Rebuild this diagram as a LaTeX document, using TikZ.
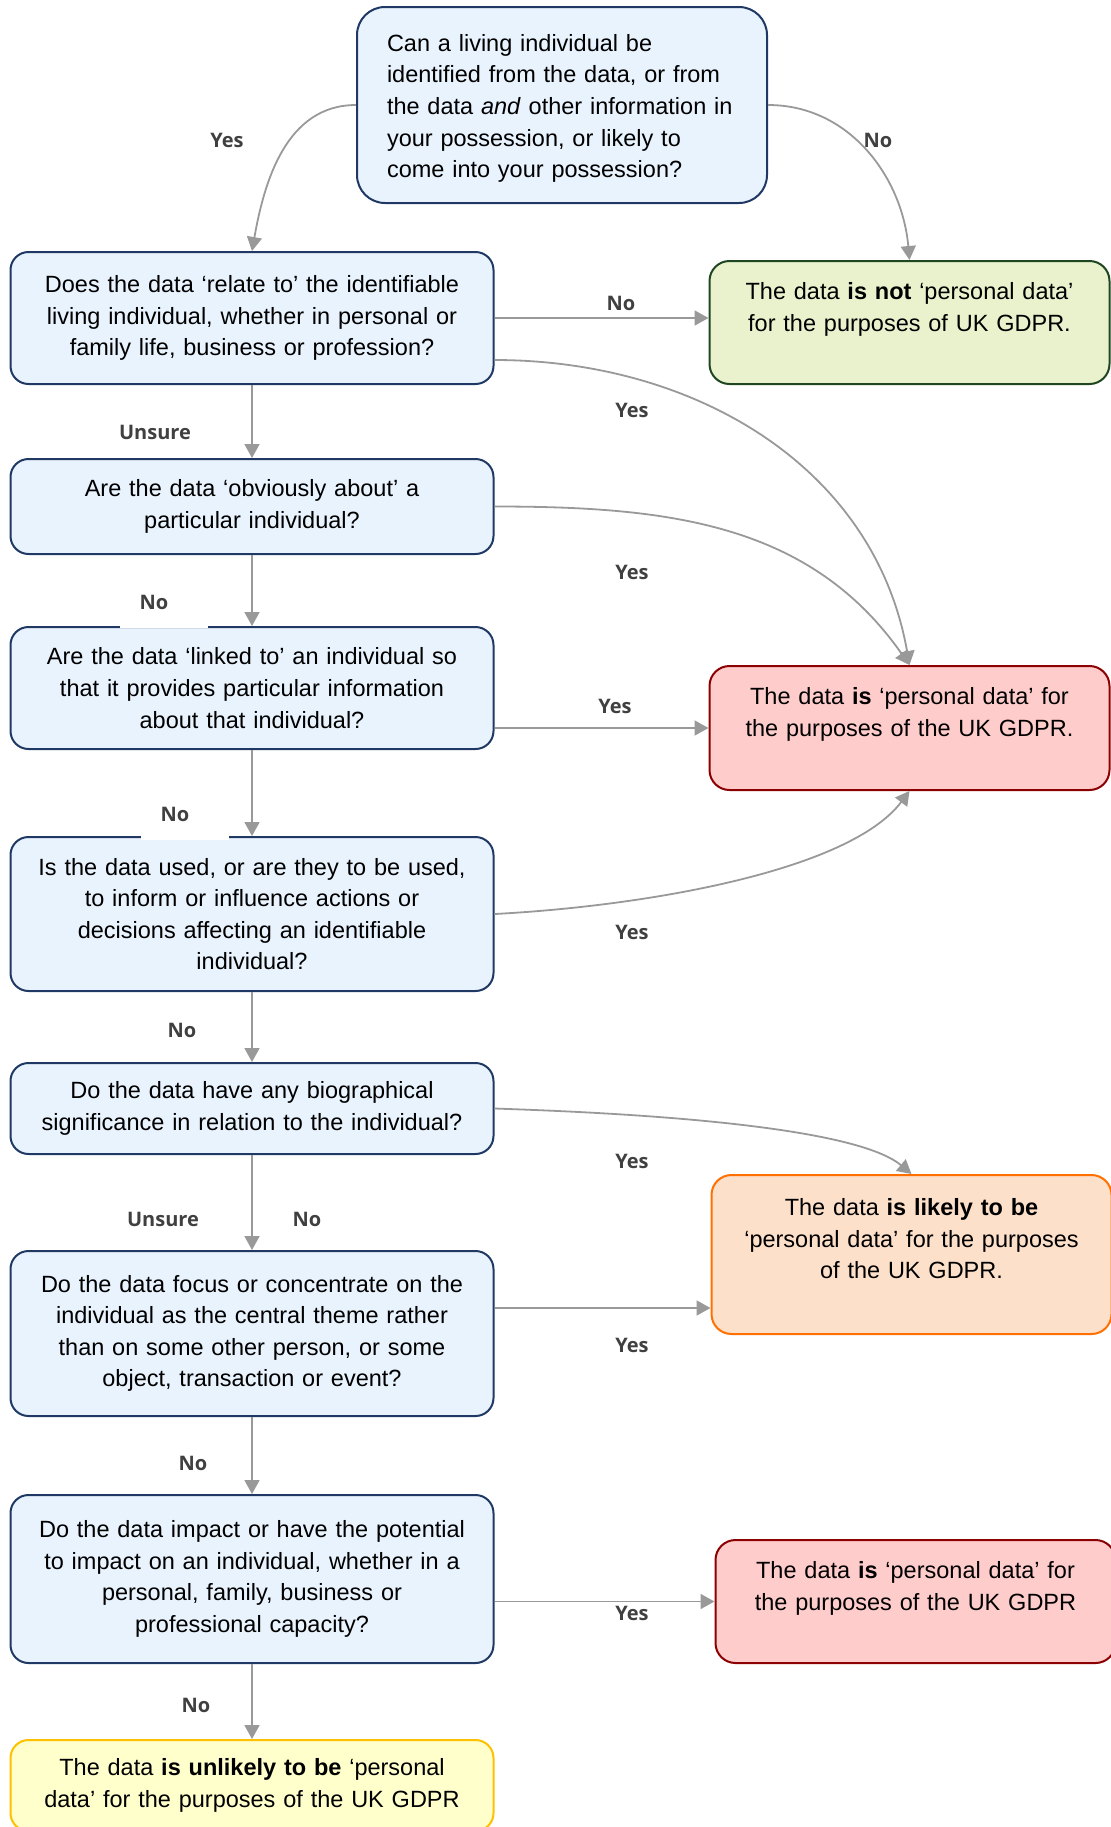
\documentclass[tikz,border=0pt]{standalone}
\usepackage{fontspec}
\setmainfont{Liberation Sans}
\newfontfamily\answerfont{Open Sans}
\usetikzlibrary{shapes,arrows.meta,positioning}
\definecolor{qfill}{HTML}{E9F3FD}
\definecolor{qborder}{HTML}{1F3864}
\definecolor{notfill}{HTML}{E9F2CC}
\definecolor{notborder}{HTML}{1E4620}
\definecolor{pdfill}{HTML}{FFCCCC}
\definecolor{pdborder}{HTML}{8B0000}
\definecolor{likelyfill}{HTML}{FDE0CA}
\definecolor{likelyborder}{HTML}{FF7000}
\definecolor{unlikelyfill}{HTML}{FFFFCC}
\definecolor{unlikelyborder}{HTML}{FFC000}
\definecolor{linegray}{HTML}{999999}
\definecolor{answergray}{HTML}{404040}
\newcommand{\boxfont}{\fontsize{11.75pt}{15.8pt}\selectfont}
\tikzstyle{topq} = [rectangle, draw=qborder, fill=qfill, line width=1pt,
    rounded corners=14pt, text width=175pt, align=left, inner xsep=15pt,
    inner ysep=0pt, minimum height=98pt, font=\boxfont]
\tikzstyle{question} = [rectangle, draw=qborder, fill=qfill, line width=1pt,
    rounded corners=9pt, text width=236pt, align=center, inner xsep=2.75pt,
    inner ysep=0pt, font=\boxfont]
\tikzstyle{outcome} = [rectangle, line width=1pt, rounded corners=10pt,
    text width=194pt, align=center, inner xsep=3pt, inner ysep=0pt, font=\boxfont]
\tikzstyle{answer} = [font=\answerfont\bfseries\fontsize{10pt}{12pt}\selectfont,
    text=answergray, inner sep=1pt]
\tikzstyle{patch} = [fill=white, minimum width=44pt, minimum height=26pt]
\tikzstyle{line} = [draw=linegray, line width=0.9pt, -{Triangle[length=7pt,width=7.5pt]}]

\begin{document}
\begin{tikzpicture}
    \useasboundingbox (0,0) rectangle (555pt,-913.5pt);
    % Place nodes
    \node [topq] (ident) at (281pt,-52.5pt) {\rule{0pt}{12pt}Can a living individual be\\ identified from the data, or from\\ the data \emph{and} other information in\\ your possession, or likely to\\ come into your possession?};
    \node [question, minimum height=66pt] (relate) at (126pt,-159pt) {Does the data ‘relate to’ the identifiable\\ living individual, whether in personal or\\ family life, business or profession?};
    \node [question, below=36.5pt of relate, minimum height=47.5pt] (obvious) {Are the data ‘obviously about’ a\\ particular individual?};
    \node [question, below=35.5pt of obvious, minimum height=61pt] (linked) {Are the data ‘linked to’ an individual so\\ that it provides particular information\\ about that individual?};
    \node [question, below=43pt of linked, minimum height=77pt] (used) {Is the data used, or are they to be used,\\ to inform or influence actions or\\ decisions affecting an identifiable\\ individual?};
    \node [question, below=35pt of used, minimum height=45.5pt] (bio) {Do the data have any biographical\\ significance in relation to the individual?};
    \node [question, below=47.5pt of bio, minimum height=82.5pt] (focus) {Do the data focus or concentrate on the\\ individual as the central theme rather\\ than on some other person, or some\\ object, transaction or event?};
    \node [question, below=38.5pt of focus, minimum height=84pt] (impact) {Do the data impact or have the potential\\ to impact on an individual, whether in a\\ personal, family, business or\\ professional capacity?};
    \node [question, draw=unlikelyborder, fill=unlikelyfill, below=37.5pt of impact, minimum height=45.5pt] (unlikely) {The data \textbf{is unlikely to be} ‘personal\\ data’ for the purposes of the UK GDPR};
    \node [outcome, draw=notborder, fill=notfill, right=107pt of relate, yshift=-2.25pt, minimum height=61.5pt] (notpd) {The data \textbf{is not} ‘personal data’\\ for the purposes of UK GDPR.\\ ~};
    \node [outcome, draw=pdborder, fill=pdfill, right=107pt of linked, yshift=-20pt, minimum height=62pt] (ispd) {The data \textbf{is} ‘personal data’ for\\ the purposes of the UK GDPR.\\ ~};
    \node [outcome, draw=likelyborder, fill=likelyfill, right=108pt of focus, yshift=39.5pt, minimum height=79.5pt] (likely) {The data \textbf{is likely to be}\\ ‘personal data’ for the purposes\\ of the UK GDPR.\\ ~};
    \node [outcome, draw=pdborder, fill=pdfill, right=110pt of impact, yshift=-11.25pt, minimum height=61.5pt] (ispdtwo) {The data \textbf{is} ‘personal data’ for\\ the purposes of the UK GDPR\\ ~};
    \coordinate (focusout) at ([yshift=12.75pt]focus.east);
    % Draw edges
    \path [line] (ident.west) to[out=180, in=80] (relate.north);
    \path [line] (ident.east) to[out=0, in=95] (notpd.north);
    \path [line] (relate.east) -- (relate.east -| notpd.west);
    \path [line] ([yshift=-21pt]relate.east) to[out=0, in=100] (ispd.north);
    \path [line] (relate.south) -- (obvious.north);
    \path [line] (obvious.east) to[out=0, in=125] (ispd.north);
    \path [line] (obvious.south) -- (linked.north);
    \path [line] ([yshift=-20pt]linked.east) -- (ispd.west);
    \path [line] (linked.south) -- (used.north);
    \path [line] (used.east) to[out=3, in=-127, out distance=76pt, in distance=50pt] (ispd.south);
    \path [line] (used.south) -- (bio.north);
    \path [line] (bio.east) to[out=-2, in=140, looseness=0.5] (likely.north);
    \path [line] (bio.south) -- (focus.north);
    \path [line] (focusout) -- (focusout -| likely.west);
    \path [line] (focus.south) -- (impact.north);
    \path [line] ([yshift=-11.25pt]impact.east) -- (ispdtwo.west);
    \path [line] (impact.south) -- (unlikely.north);
    % Labels
    \node [answer] (yesident) at (113.5pt,-70pt) {Yes};
    \node [answer] (noident) at (439pt,-70pt) {No};
    \node [answer] (norelate) at (310.5pt,-151.5pt) {No};
    \node [answer] (yesrelate) at (316pt,-205pt) {Yes};
    \node [answer] (unsurerelate) at (77.5pt,-216pt) {Unsure};
    \node [answer] (yesobvious) at (316pt,-286pt) {Yes};
    \node [answer, patch] (noobvious) at (82pt,-301pt) {No\hspace*{10pt}};
    \node [answer] (yeslinked) at (307.5pt,-353pt) {Yes};
    \node [answer, patch] (nolinked) at (92.5pt,-407pt) {No\hspace*{10pt}};
    \node [answer] (yesused) at (316pt,-466pt) {Yes};
    \node [answer] (noused) at (91pt,-515pt) {No};
    \node [answer] (yesbio) at (316pt,-580.5pt) {Yes};
    \node [answer] (unsurebio) at (81.5pt,-609.5pt) {Unsure};
    \node [answer] (nobio) at (153.5pt,-609.5pt) {No};
    \node [answer] (yesfocus) at (316pt,-672.5pt) {Yes};
    \node [answer] (nofocus) at (96.5pt,-731.5pt) {No};
    \node [answer] (yesimpact) at (316pt,-806.5pt) {Yes};
    \node [answer] (noimpact) at (98pt,-852.5pt) {No};
\end{tikzpicture}
\end{document}
